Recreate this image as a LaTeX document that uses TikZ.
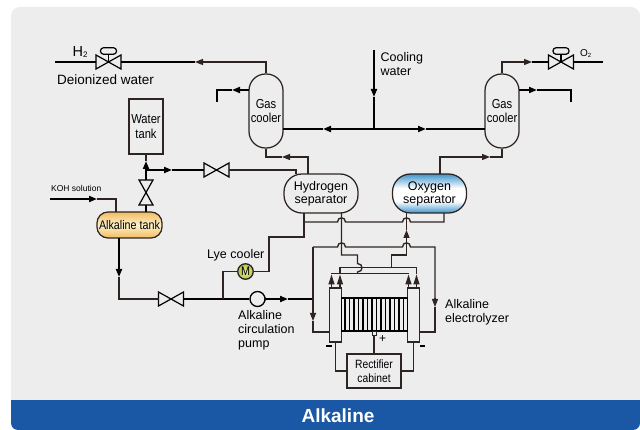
\documentclass[tikz,border=0pt]{standalone}
\usepackage{fontspec}
\setmainfont{Liberation Sans}
\newfontfamily\nrw[FakeStretch=0.86]{Liberation Sans}
\usetikzlibrary{arrows.meta,calc,positioning}
\definecolor{panel}{HTML}{EDEDED}
\definecolor{band}{HTML}{1A58A6}
\definecolor{pipecol}{HTML}{2E2422}
\definecolor{oxblue}{HTML}{3F94CC}
\definecolor{tankor}{HTML}{F3BC5E}
\definecolor{tanklt}{HTML}{FDF0CC}
\definecolor{motorin}{HTML}{E8EE8C}
\definecolor{motorout}{HTML}{B5C24F}
\pgfdeclareverticalshading{oxsh}{100bp}{color(0bp)=(oxblue); color(25bp)=(oxblue); color(40bp)=(white); color(57bp)=(white); color(75bp)=(oxblue); color(100bp)=(oxblue)}
\tikzset{
  thickpipe/.style={line width=1.9pt,black},
  thinpipe/.style={line width=1.35pt,pipecol},
  tip/.style={-{Triangle[length=8pt,width=6pt]}},
  longtip/.style={-{Triangle[length=10pt,width=6pt]}},
  vessel/.style={draw=pipecol,line width=1.25pt,inner sep=0pt,align=center,font=\fontsize{13}{13.5}\selectfont},
  coolerbox/.style={vessel,minimum width=34pt,minimum height=74pt,rounded corners=16.5pt,font=\nrw\fontsize{13}{14.5}\selectfont},
  sepbox/.style={vessel,minimum width=74pt,minimum height=39pt,rounded corners=18pt,font=\fontsize{12.5}{13}\selectfont},
  valvebox/.style={minimum width=25pt,minimum height=14pt,inner sep=0pt,outer sep=0pt},
  vvalvebox/.style={minimum width=14pt,minimum height=25pt,inner sep=0pt,outer sep=0pt},
  bow/.style={draw=black,line width=1.2pt,line join=miter},
  label/.style={inner sep=0pt,align=left,anchor=north west,font=\fontsize{13}{14.5}\selectfont,text=black},
  plate/.style={draw=pipecol,line width=1.3pt,minimum width=12pt,minimum height=54pt,inner sep=0pt},
  actuator/.style={draw=black,line width=1.2pt,rounded corners=3pt,minimum width=16pt,minimum height=6.5pt,inner sep=0pt},
}
\newcommand{\bumpx}[2]{-- (#1-4,#2) .. controls (#1-4,#2-5.5) and (#1+4,#2-5.5) .. (#1+4,#2)}
\newcommand{\hvalve}[1]{\draw[bow] (#1.north west) -- (#1.south east) -- (#1.north east) -- (#1.south west) -- cycle;}
\newcommand{\vvalve}[1]{\draw[bow] (#1.north west) -- (#1.south east) -- (#1.south west) -- (#1.north east) -- cycle;}
\begin{document}
\begin{tikzpicture}[x=1pt,y=-1pt]
\useasboundingbox (0,0) rectangle (640,430);
\fill[white] (0,0) rectangle (640,430);
\fill[panel,rounded corners=9pt] (11,7) -- (640,7) -- (640,430) -- (11,430) -- cycle;
\fill[band,rounded corners=7pt] (11,400) -- (11,430) -- (640,430) [sharp corners] -- (640,400) -- cycle;
\node[font=\bfseries\fontsize{19}{19}\selectfont,text=white,inner sep=0pt] (title) at (338,415.5) {Alkaline};

% vessels
\node[coolerbox] (coolA) at (266,111) {Gas\\cooler};
\node[coolerbox] (coolB) at (502,111) {Gas\\cooler};
\node[sepbox] (hsep) at (321,193.5) {Hydrogen\\separator};
\node[sepbox,shading=oxsh] (osep) at (429.5,193.5) {Oxygen\\separator};
\node[vessel,minimum width=34pt,minimum height=55pt,font=\nrw\fontsize{13}{14.5}\selectfont] (wtank) at (146,126.5) {Water\\tank};
\node[vessel,minimum width=65pt,minimum height=26pt,rounded corners=11pt,top color=tankor,bottom color=tankor,middle color=tanklt,font=\nrw\fontsize{12.5}{13}\selectfont] (atank) at (129.5,225) {Alkaline tank};
\node[vessel,minimum width=54pt,minimum height=34pt,font=\nrw\fontsize{12}{14.5}\selectfont] (rect) at (374,371) {Rectifier\\cabinet};

% valves
\node[valvebox] (vH) at (108.5,62) {}; \hvalve{vH}
\node[valvebox] (vO) at (561,62) {}; \hvalve{vO}
\node[valvebox] (vW) at (216.5,170) {}; \hvalve{vW}
\node[vvalvebox] (vT) at (146,192.5) {}; \vvalve{vT}
\node[valvebox] (vA) at (171,299) {}; \hvalve{vA}
\node[actuator] (actH) at (108.5,51) {};
\node[actuator] (actO) at (561,51) {};
\draw[line width=1.2pt] (actH) -- (vH.center);
\draw[line width=1.2pt] (actO) -- (vO.center);

% pump and motor
\draw[line width=1.1pt,draw=pipecol] (258,291.5) -- (266.5,299) -- (258,306.5);
\node[circle,draw=black,line width=1.3pt,fill=panel,minimum size=15pt,inner sep=0pt] (pump) at (257.5,299) {};
\node[circle,draw=pipecol,line width=1.3pt,inner color=motorin,outer color=motorout,minimum size=15.5pt,inner sep=0pt,font=\nrw\fontsize{12.5}{12.5}\selectfont] (lye) at (245.5,271.5) {M};

% top left lines
\coordinate (h2end) at (55,62);
\draw[thickpipe] (h2end) -- (vH.west);
\coordinate (h2a) at (195,62);
\draw[thickpipe] (vH.east) -- (h2a);
\draw[thinpipe,tip] (coolA.north) |- (h2a);
\coordinate (ca) at (232,90);
\coordinate (cb) at (217,102);
\draw[thickpipe,tip] (249,90) -- (ca);
\draw[thickpipe] (ca) -| (cb);
\coordinate (cc) at (282,157);
\draw[thinpipe] (coolA.south) |- (cc);
\draw[thinpipe,tip] (308,174) |- (cc);
% cooling
\coordinate (cw) at (374,50);
\coordinate (cj) at (374,129);
\coordinate (cwm) at (374,97);
\draw[thickpipe,tip] (cw) -- (cwm);
\draw[thickpipe] (cwm) -- (cj);
\coordinate (cl) at (323,129);
\coordinate (cr) at (426,129);
\draw[thickpipe,tip] (cj) -- (cl);
\draw[thickpipe] (cl) -- (283,129);
\draw[thickpipe,tip] (cj) -- (cr);
\draw[thickpipe] (cr) -- (485,129);
% right cooler
\coordinate (ra) at (532,62);
\draw[thinpipe,tip] (coolB.north) |- (ra);
\draw[thickpipe] (ra) -- (vO.west);
\coordinate (o2end) at (603,62);
\draw[thickpipe] (vO.east) -- (o2end);
\coordinate (rb) at (537,90);
\coordinate (rc) at (571,102);
\draw[thickpipe,tip] (519,90) -- (rb);
\draw[thickpipe] (rb) -| (rc);
\coordinate (rd) at (490,157);
\draw[thinpipe,tip] (440,174) |- (rd);
\draw[thinpipe] (coolB.south) |- (rd);
% water
\coordinate (wj) at (146,170);
\coordinate (wu) at (146,161);
\draw[thinpipe] (wtank.south) -- (wu);
\draw[thickpipe,tip] (wj) -- (wu);
\draw[thickpipe] (wj) -- (vT.north);
\coordinate (atop) at (146,212);
\draw[thickpipe] (vT.south) -- (atop);
\coordinate (wr) at (172,170);
\draw[thickpipe,tip] (wj) -- (wr);
\draw[thickpipe] (wr) -- (vW.west);
\draw[thinpipe] (vW.east) -| (296,174);
% koh
\coordinate (k0) at (50,199);
\coordinate (k1) at (97,199);
\draw[thickpipe,tip] (k0) -- (k1);
\draw[thinpipe] (k1) -| (116,212);
% tank to valve
\coordinate (t1) at (119,277);
\draw[thickpipe,tip] (119,238) -- (t1);
\draw[thinpipe] (t1) |- (vA.west);
\draw[thickpipe] (vA.east) -- (pump.west);
\coordinate (p1) at (288,299);
\draw[thickpipe,tip] (pump.east) -- (p1);
\coordinate (loopL) at (313,299);
\draw[thickpipe] (p1) -- (loopL);
% lye
\coordinate (lj) at (223,299);
\draw[thinpipe] (lj) |- (lye.west);
\draw[thinpipe] (lye.east) -- (269,271.5) |- (304,237) -- (304,213);

% electrolyzer
\node[plate] (pL) at (335.5,315) {};
\node[plate] (pR) at (413.5,315) {};
\node[minimum width=66pt,minimum height=33pt,inner sep=0pt,draw=black,line width=1.5pt] (stack) at (374.5,314.5) {};
\foreach \i in {0,...,13}{\draw[line width=1.6pt,black] (345+\i*4.5,298) -- (345+\i*4.5,331);}
\node[draw=pipecol,line width=1pt,fill=panel,minimum size=4pt,inner sep=0pt] (term) at (374,333.5) {};
\draw[thinpipe] (term) -- (rect.north);
\draw[thinpipe] (pL.south) |- (rect.west);
\draw[thinpipe] (pR.south) |- (rect.east);

% lye return across top
\draw[thinpipe] (304,222) \bumpx{341.5}{222} \bumpx{406.5}{222} -| (444,213);
% circulating loop
\coordinate (l1) at (313,321);
\draw[thinpipe,tip] (313,247) -- (l1);
\draw[thinpipe] (l1) |- (329.5,332);
\coordinate (l2) at (435,307);
\draw[thinpipe] (313,247) \bumpx{341.5}{247} \bumpx{406.5}{247} -- (435,247) -- (435,298);
\draw[thinpipe,tip] (435,298) -- (l2);
\draw[thinpipe] (l2) |- (419.5,332);
% hydrogen gas line
\draw[thinpipe] (341.5,213) -- (341.5,255) -- (357.5,255) -- (357.5,263.5) .. controls (363.5,263.5) and (363.5,272) .. (357.5,272) -- (357.5,273.5);
\draw[thinpipe] (331.5,273.5) -- (408.5,273.5);
\draw[thinpipe] (340,267.5) -- (416.5,267.5);
% oxygen gas line
\coordinate (o1) at (406.5,230);
\draw[thinpipe] (391.5,267.5) |- (406.5,255) -- (406.5,238);
\draw[thinpipe,tip] (406.5,238) -- (o1);
\draw[thinpipe] (o1) -- (406.5,213);
% stubs into plates
\foreach \x/\yy in {331.5/273.5,340/267.5,408.5/273.5,416.5/267.5}{
  \coordinate (s) at (\x,274.5);
  \draw[thinpipe,longtip] (\x,288) -- (s);
  \draw[thinpipe] (s) -- (\x,\yy);
}

% text
\node[label,font=\fontsize{14.5}{14.5}\selectfont] (lH) at (72.5,46) {H\raisebox{-1pt}{\fontsize{8}{8}\selectfont 2}};
\node[label,font=\fontsize{10}{10}\selectfont] (lO) at (580,49) {O\raisebox{-1pt}{\fontsize{6}{6}\selectfont 2}};
\node[label,font=\fontsize{13.5}{14}\selectfont] (lD) at (57,75) {Deionized water};
\node[label,font=\fontsize{12.5}{14.5}\selectfont] (lC) at (380.5,52) {Cooling\\water};
\node[label,font=\fontsize{8.5}{9}\selectfont] (lK) at (51,185) {KOH solution};
\node[label,font=\fontsize{12.5}{13}\selectfont] (lL) at (207,249) {Lye cooler};
\node[label,font=\fontsize{12.5}{14}\selectfont] (lP) at (238,310) {Alkaline\\circulation\\pump};
\node[label,font=\fontsize{12.5}{14}\selectfont] (lE) at (445,299) {Alkaline\\electrolyzer};
\node[inner sep=0pt,font=\fontsize{12}{12}\selectfont] (plus) at (382.5,339) {+};
\draw[line width=1.6pt] (326,346) -- (331.5,346);
\draw[line width=1.6pt] (419.5,346) -- (425,346);
\end{tikzpicture}
\end{document}
